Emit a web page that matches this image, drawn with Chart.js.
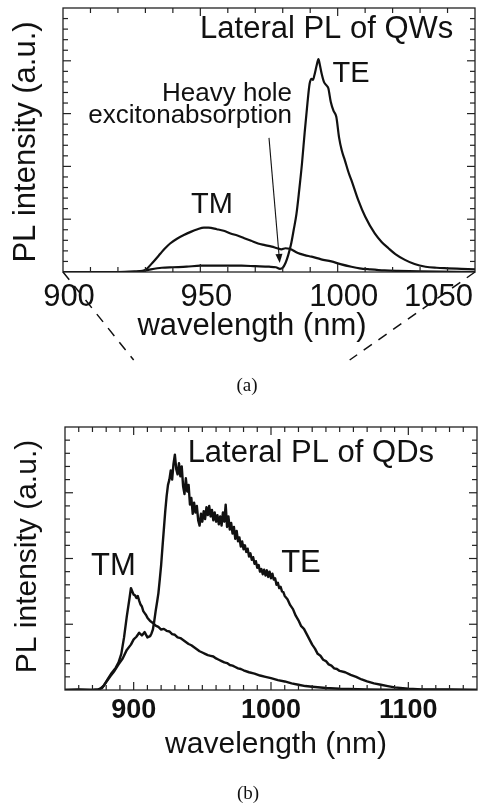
<!DOCTYPE html>
<html>
<head>
<meta charset="utf-8">
<script src="https://cdn.jsdelivr.net/npm/chart.js@4/dist/chart.umd.min.js"></script>
<style>
  html, body { margin: 0; padding: 0; background: #fff; }
  #wrap { position: relative; width: 480px; height: 806px; overflow: hidden; }
  #qw { position: absolute; left: 0; top: 0; }
  #qd { position: absolute; left: 0; top: 400px; }
  .cap { position: absolute; transform: translateX(-50%); font-family: "Liberation Serif", "Times New Roman", serif;
         font-size: 19px; line-height: 20px; color: #111; }
</style>
</head>
<body>
<div id="wrap">
  <canvas id="qw" width="480" height="400"></canvas>
  <canvas id="qd" width="480" height="406"></canvas>
  <div class="cap" style="left:247px; top:375px;">(a)</div>
  <div class="cap" style="left:248px; top:783px;">(b)</div>
</div>
<script>
// ---- Quantum wells: lateral PL spectra (wavelength in nm, intensity in a.u.)
const qwTeNm  = [900, 920, 926, 929, 932, 936, 940, 945, 950, 955, 960, 965, 970, 975, 977.5, 979, 980, 981, 982, 983, 984, 985, 986, 987, 988, 989, 989.8, 990.5, 991, 991.5, 992.3, 993, 993.6, 994.2, 995, 996, 996.6, 997.5, 998.5, 999.5, 1000.5, 1001.5, 1002.6, 1004, 1005, 1007.5, 1010, 1013.5, 1016, 1018.5, 1021, 1024.5, 1028, 1032, 1036, 1040, 1045, 1050];
const qwTeInt = [0.00, 0.00, 0.01, 0.02, 0.05, 0.08, 0.09, 0.10, 0.12, 0.12, 0.12, 0.12, 0.11, 0.10, 0.09, 0.06, 0.08, 0.17, 0.32, 0.52, 0.80, 1.10, 1.55, 2.05, 2.65, 3.20, 3.57, 3.66, 3.64, 3.72, 3.90, 4.03, 3.90, 3.75, 3.60, 3.53, 3.48, 3.22, 3.05, 2.94, 2.55, 2.30, 2.12, 1.88, 1.74, 1.36, 1.05, 0.73, 0.57, 0.45, 0.34, 0.23, 0.15, 0.10, 0.08, 0.07, 0.06, 0.05];
const qwTmNm  = [900, 925, 928, 930, 933, 935.5, 937, 939, 941.5, 944, 946.5, 949, 951.3, 953, 956, 958.5, 961, 963.5, 966, 968.5, 971, 973.5, 976, 978, 979.5, 981, 982.5, 985.5, 988, 990.5, 994, 997.7, 1001, 1005, 1008, 1012, 1017, 1022, 1030, 1050];
const qwTmInt = [0.00, 0.00, 0.01, 0.04, 0.20, 0.35, 0.44, 0.54, 0.63, 0.70, 0.76, 0.81, 0.84, 0.84, 0.81, 0.78, 0.73, 0.69, 0.64, 0.59, 0.54, 0.51, 0.48, 0.45, 0.43, 0.45, 0.44, 0.36, 0.32, 0.29, 0.24, 0.20, 0.15, 0.10, 0.07, 0.05, 0.03, 0.02, 0.01, 0.00];
const qwTickLabels = [900, 950, 1000, 1050];

// ---- Quantum dots: lateral PL spectra
const qdTeNm  = [850, 860, 870, 874, 877, 880, 883, 886, 889, 892, 895, 898, 900, 902, 904, 906, 908, 910, 912, 913, 914, 915, 916, 917, 918, 919, 920, 921, 922, 923, 924, 925, 926, 927, 928, 929, 930, 931, 932, 933, 934, 935, 936, 937, 938, 939, 940, 941, 942, 943, 944, 945, 946, 947, 948, 949, 950, 951, 952, 953, 954, 955, 956, 957, 958, 959, 960, 961, 962, 963, 964, 965, 966, 967, 968, 969, 970, 971, 972, 973, 974, 975, 976, 977, 978, 979, 980, 981, 982, 983, 984, 985, 986, 987, 988, 989, 990, 991, 992, 993, 994, 995, 996, 997, 998, 999, 1000, 1001, 1002, 1003, 1004, 1005, 1006, 1007, 1008, 1009, 1010, 1012, 1014, 1016, 1018, 1020, 1022, 1024, 1026, 1028, 1030, 1032, 1034, 1036, 1038, 1040, 1042, 1044, 1046, 1048, 1050, 1054, 1058, 1062, 1066, 1070, 1075, 1080, 1085, 1090, 1100, 1110, 1130, 1150];
const qdTeInt = [0.00, 0.01, 0.00, 0.01, 0.03, 0.12, 0.21, 0.29, 0.39, 0.48, 0.61, 0.69, 0.77, 0.81, 0.87, 0.83, 0.88, 0.80, 0.82, 0.86, 0.92, 1.05, 1.20, 1.33, 1.47, 1.68, 1.90, 2.18, 2.45, 2.72, 2.95, 3.12, 3.20, 3.34, 3.20, 3.44, 3.58, 3.36, 3.28, 3.45, 3.25, 3.40, 3.10, 2.98, 3.22, 3.02, 3.12, 2.82, 2.92, 2.68, 2.85, 2.70, 2.80, 2.58, 2.50, 2.68, 2.56, 2.72, 2.60, 2.78, 2.66, 2.80, 2.64, 2.74, 2.58, 2.70, 2.56, 2.66, 2.52, 2.64, 2.50, 2.70, 2.56, 2.82, 2.48, 2.64, 2.44, 2.54, 2.38, 2.48, 2.30, 2.42, 2.26, 2.32, 2.18, 2.26, 2.14, 2.20, 2.10, 2.15, 2.03, 2.08, 1.98, 2.02, 1.92, 1.96, 1.86, 1.90, 1.80, 1.84, 1.76, 1.83, 1.74, 1.82, 1.72, 1.80, 1.70, 1.77, 1.68, 1.70, 1.60, 1.63, 1.55, 1.57, 1.50, 1.49, 1.43, 1.38, 1.29, 1.23, 1.13, 1.06, 0.97, 0.93, 0.85, 0.77, 0.69, 0.63, 0.55, 0.52, 0.46, 0.44, 0.39, 0.37, 0.33, 0.32, 0.29, 0.27, 0.23, 0.20, 0.16, 0.13, 0.10, 0.08, 0.06, 0.04, 0.02, 0.01, 0.01, 0.00];
const qdTmNm  = [850, 870, 875, 878, 881, 884, 887, 889, 891, 893, 895, 897, 898, 899, 900, 901, 902, 903, 904, 905, 906, 907, 908, 909, 910, 912, 914, 916, 918, 920, 922, 924, 926, 928, 930, 932, 934, 936, 938, 940, 942, 944, 946, 948, 950, 952, 954, 956, 958, 960, 962, 964, 966, 968, 970, 972, 974, 976, 978, 980, 984, 988, 992, 996, 1000, 1005, 1010, 1015, 1020, 1025, 1030, 1040, 1050, 1070, 1100, 1150];
const qdTmInt = [0.00, 0.00, 0.01, 0.06, 0.16, 0.26, 0.34, 0.42, 0.55, 0.80, 1.12, 1.40, 1.55, 1.50, 1.45, 1.44, 1.40, 1.43, 1.36, 1.30, 1.27, 1.20, 1.17, 1.14, 1.10, 1.05, 1.02, 0.98, 0.96, 0.92, 0.93, 0.90, 0.89, 0.85, 0.84, 0.80, 0.79, 0.76, 0.73, 0.70, 0.68, 0.65, 0.62, 0.59, 0.57, 0.55, 0.53, 0.52, 0.51, 0.48, 0.46, 0.44, 0.42, 0.41, 0.38, 0.37, 0.35, 0.33, 0.32, 0.30, 0.27, 0.25, 0.22, 0.20, 0.18, 0.15, 0.13, 0.10, 0.08, 0.06, 0.05, 0.03, 0.02, 0.01, 0.00, 0.00];
const qdTickLabels = [900, 1000, 1100];

const SANS = '"Liberation Sans", Arial, Helvetica, sans-serif';
const INK = '#111';

const toPoints = (xs, ys) => xs.map((v, i) => ({ x: v, y: ys[i] }));

function spectrum(xs, ys, smooth, width) {
  return {
    data: toPoints(xs, ys),
    borderColor: INK,
    borderWidth: width,
    borderJoinStyle: 'round',
    pointRadius: 0,
    fill: false,
    tension: 0,
    cubicInterpolationMode: smooth ? 'monotone' : 'default'
  };
}

// Boxed frame with inward ticks on all four sides, tick labels, axis titles and text notes
const panelDecor = {
  id: 'panelDecor',
  afterDraw(chart, args, o) {
    const { ctx, chartArea: a, scales: { x, y } } = chart;
    ctx.save();
    const seg = (x1, y1, x2, y2) => { ctx.beginPath(); ctx.moveTo(x1, y1); ctx.lineTo(x2, y2); ctx.stroke(); };

    ctx.strokeStyle = '#222';
    ctx.lineWidth = 1.3;
    ctx.strokeRect(a.left, a.top, a.right - a.left, a.bottom - a.top);

    ctx.lineWidth = 1.2;
    const nx = Math.round((x.max - x.min) / o.xMinor);
    for (let i = 1; i < nx; i++) {
      const v = x.min + i * o.xMinor;
      const px = x.getPixelForValue(v);
      const major = Math.abs(v / o.xMajor - Math.round(v / o.xMajor)) < 1e-6;
      const L = major ? o.majorLen : o.minorLen;
      seg(px, a.bottom, px, a.bottom - L);
      seg(px, a.top, px, a.top + L);
    }
    const ny = Math.round((y.max - y.min) / o.yMinor);
    for (let i = 1; i < ny; i++) {
      const v = y.min + i * o.yMinor;
      const py = y.getPixelForValue(v);
      const major = Math.abs(v / o.yMajor - Math.round(v / o.yMajor)) < 1e-6;
      const L = major ? o.majorLen : o.minorLen;
      seg(a.left, py, a.left + L, py);
      seg(a.right, py, a.right - L, py);
    }

    ctx.fillStyle = INK;
    ctx.textBaseline = 'alphabetic';
    ctx.textAlign = 'center';
    ctx.font = o.tickFont;
    o.tickLabels.forEach(v => {
      const s = String(v);
      const w = ctx.measureText(s).width;
      let px = x.getPixelForValue(v) + o.tickShift;
      if (px + w / 2 > a.right - 2) px = a.right - 2 - w / 2;
      ctx.fillText(s, px, a.bottom + o.tickBaseline);
    });

    ctx.font = o.titleFont;
    ctx.fillText(o.xTitle, (a.left + a.right) / 2 + o.xTitleShift, a.bottom + o.xTitleBaseline);

    ctx.save();
    ctx.translate(o.yTitleBaseline, (a.top + a.bottom) / 2 + o.yTitleShift);
    ctx.rotate(-Math.PI / 2);
    ctx.fillText(o.yTitle, 0, 0);
    ctx.restore();

    o.notes.forEach(n => {
      ctx.font = n.font;
      ctx.textAlign = n.align || 'center';
      ctx.fillText(n.text, x.getPixelForValue(n.x), y.getPixelForValue(n.y));
    });

    (o.arrows || []).forEach(r => {
      const x1 = x.getPixelForValue(r.from[0]), y1 = y.getPixelForValue(r.from[1]);
      const x2 = x.getPixelForValue(r.to[0]),   y2 = y.getPixelForValue(r.to[1]);
      const ang = Math.atan2(y2 - y1, x2 - x1);
      const head = 9, half = 3.5;
      ctx.strokeStyle = INK;
      ctx.lineWidth = 1.1;
      seg(x1, y1, x2 - head * Math.cos(ang), y2 - head * Math.sin(ang));
      ctx.beginPath();
      ctx.moveTo(x2, y2);
      ctx.lineTo(x2 - head * Math.cos(ang) + half * Math.sin(ang), y2 - head * Math.sin(ang) - half * Math.cos(ang));
      ctx.lineTo(x2 - head * Math.cos(ang) - half * Math.sin(ang), y2 - head * Math.sin(ang) + half * Math.cos(ang));
      ctx.closePath();
      ctx.fill();
    });

    if (o.extra) o.extra(chart);
    ctx.restore();
  }
};

function baseOptions(padding, xr, yr, decor) {
  return {
    responsive: false,
    animation: false,
    events: [],
    layout: { padding },
    scales: {
      x: { type: 'linear', min: xr[0], max: xr[1], display: false },
      y: { type: 'linear', min: yr[0], max: yr[1], display: false }
    },
    plugins: { legend: { display: false }, tooltip: { enabled: false }, panelDecor: decor }
  };
}

// Panel (b): quantum dots
const qdChart = new Chart(document.getElementById('qd'), {
  type: 'line',
  data: { datasets: [spectrum(qdTeNm, qdTeInt, false, 2.4), spectrum(qdTmNm, qdTmInt, false, 2.4)] },
  options: baseOptions({ left: 65, right: 3, top: 27, bottom: 116 }, [850, 1150], [0, 4], {
    xMinor: 10, xMajor: 100, yMinor: 0.2, yMajor: 1, majorLen: 8, minorLen: 5,
    tickLabels: qdTickLabels, tickFont: 'bold 27px ' + SANS, tickShift: 0, tickBaseline: 28,
    xTitle: 'wavelength (nm)', titleFont: '30px ' + SANS, xTitleShift: 5, xTitleBaseline: 63,
    yTitle: 'PL intensity (a.u.)', yTitleBaseline: 36, yTitleShift: -2,
    notes: [
      { text: 'Lateral PL of QDs', x: 1029, y: 3.47, font: '31px ' + SANS },
      { text: 'TM', x: 885.3, y: 1.75, font: '31px ' + SANS },
      { text: 'TE', x: 1021.8, y: 1.79, font: '31px ' + SANS }
    ]
  }),
  plugins: [panelDecor]
});

// Panel (a): quantum wells, with dashed guides toward the wider QD wavelength axis
const qwChart = new Chart(document.getElementById('qw'), {
  type: 'line',
  data: { datasets: [spectrum(qwTeNm, qwTeInt, true, 2.2), spectrum(qwTmNm, qwTmInt, true, 2.2)] },
  options: baseOptions({ left: 63, right: 5, top: 8, bottom: 128 }, [900, 1050], [0, 5], {
    xMinor: 10, xMajor: 50, yMinor: 0.2, yMajor: 1, majorLen: 8, minorLen: 5,
    tickLabels: qwTickLabels, tickFont: '31px ' + SANS, tickShift: 6, tickBaseline: 34,
    xTitle: 'wavelength (nm)', titleFont: '31px ' + SANS, xTitleShift: -17, xTitleBaseline: 63,
    yTitle: 'PL intensity (a.u.)', yTitleBaseline: 35, yTitleShift: 2,
    notes: [
      { text: 'Lateral PL of QWs', x: 996, y: 4.43, font: '31px ' + SANS },
      { text: 'TE', x: 1004.9, y: 3.6, font: '29px ' + SANS },
      { text: 'TM', x: 954.2, y: 1.12, font: '29px ' + SANS },
      { text: 'Heavy hole', x: 983.4, y: 3.24, font: '26px ' + SANS, align: 'right' },
      { text: 'excitonabsorption', x: 983.4, y: 2.82, font: '26px ' + SANS, align: 'right' }
    ],
    arrows: [{ from: [975, 2.54], to: [978.9, 0.17] }],
    extra(chart) {
      const { ctx, chartArea: a } = chart;
      const qx = qdChart.scales.x;
      const reach = 88;
      ctx.strokeStyle = INK;
      ctx.lineWidth = 1.5;
      ctx.setLineDash([10, 8]);
      ctx.beginPath();
      ctx.moveTo(a.left, a.bottom);
      ctx.lineTo(qx.getPixelForValue(900), a.bottom + reach);
      ctx.moveTo(a.right, a.bottom);
      ctx.lineTo(qx.getPixelForValue(1050) + 10, a.bottom + reach);
      ctx.stroke();
      ctx.setLineDash([]);
    }
  }),
  plugins: [panelDecor]
});
</script>
</body>
</html>
